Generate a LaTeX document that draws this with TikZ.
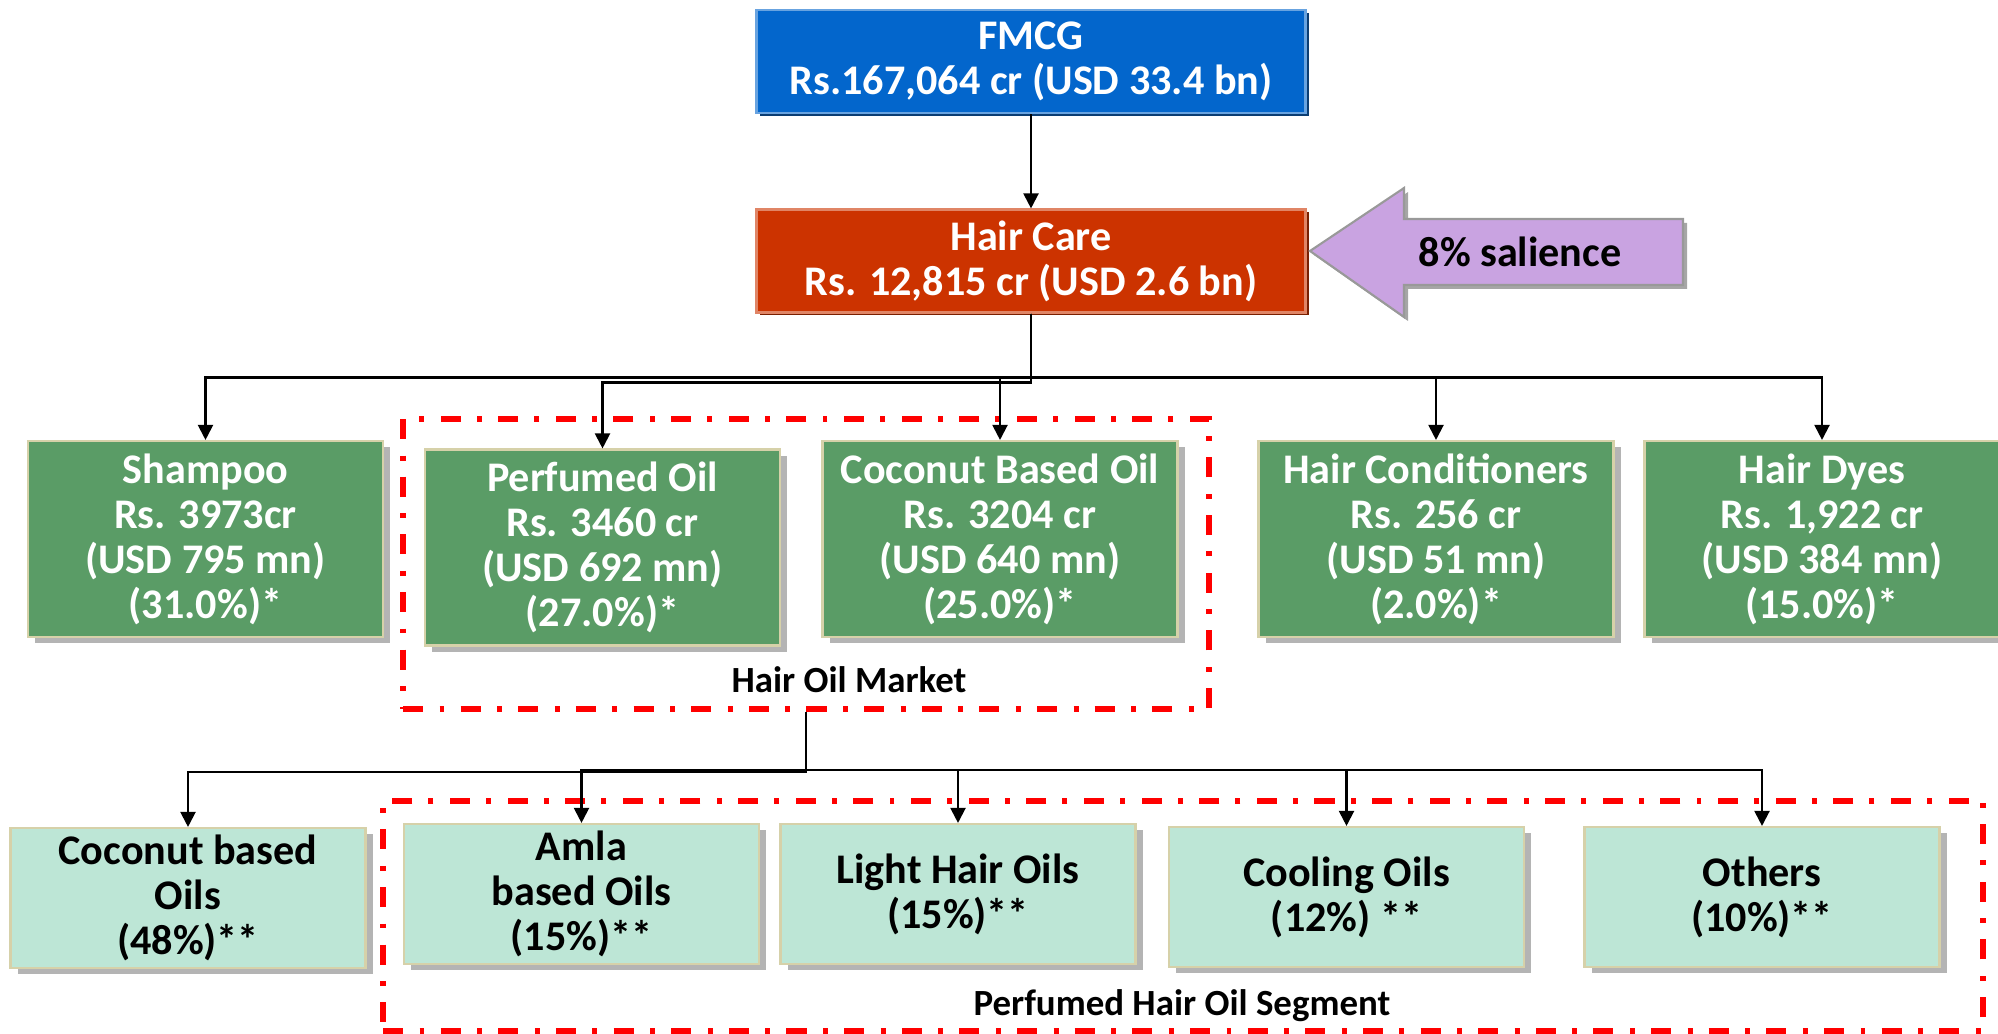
\documentclass[tikz,border=0pt]{standalone}
\usepackage{fontspec}
\setmainfont{Carlito}
\usetikzlibrary{arrows.meta,shadows}
\definecolor{fmcgblue}{HTML}{0366CC}
\definecolor{fmcgdark}{HTML}{0A3D73}
\definecolor{carered}{HTML}{CC3300}
\definecolor{caredark}{HTML}{7A1F00}
\definecolor{salfill}{HTML}{C9A3E1}
\definecolor{oilgreen}{HTML}{5A9C66}
\definecolor{oilmint}{HTML}{BDE6D6}
\definecolor{boxedge}{HTML}{D6D1A9}
\definecolor{shadowgray}{HTML}{B4B4B4}
\newcommand{\chartfont}{\fontsize{12}{12.8}\selectfont\bfseries}
\newcommand{\tagfont}{\fontsize{10.5}{12}\selectfont\bfseries}

\begin{document}
\begin{tikzpicture}[
  box/.style={line width=0.6pt, align=center, font=\chartfont, inner sep=2pt},
  grayshadow/.style={drop shadow={shadow xshift=0.07cm, shadow yshift=-0.06cm,
                     fill=shadowgray, opacity=1}},
  head/.style={box, text=white, minimum width=5.49cm, minimum height=1.03cm},
  mkt/.style={box, grayshadow, draw=boxedge, fill=oilgreen, text=white,
              minimum width=3.55cm, minimum height=1.96cm},
  seg/.style={box, grayshadow, draw=boxedge, fill=oilmint,
              minimum width=3.55cm, minimum height=1.40cm},
  zone/.style={draw=red, line width=1.7pt, inner sep=0pt,
               dash pattern=on 5.7pt off 4.7pt on 1.4pt off 4.6pt},
  lbl/.style={font=\tagfont},
  arr/.style={-{Triangle[length=4.3pt,width=4.3pt]}, line width=0.6pt}
]
  \useasboundingbox (0,0) rectangle (19.98,-10.34);

  \node[head, fill=fmcgblue, draw=fmcgblue!60!white,
        drop shadow={shadow xshift=0.03cm, shadow yshift=-0.03cm, fill=fmcgdark, opacity=1}]
        (fmcg) at (10.31,-0.615) {FMCG\\Rs.167,064 cr (USD 33.4 bn)};
  \node[head, fill=carered, draw=carered!60!white,
        drop shadow={shadow xshift=0.03cm, shadow yshift=-0.03cm, fill=caredark, opacity=1}]
        (care) at (10.31,-2.61) {Hair Care\\Rs. 12,815 cr (USD 2.6 bn)};

  \draw[fill=salfill, draw=gray!80, line width=0.6pt,
        drop shadow={shadow xshift=0.04cm, shadow yshift=-0.04cm, fill=gray!70, opacity=1}]
    (13.10,-2.51) -- (14.04,-1.88) -- (14.04,-2.19) -- (16.83,-2.19)
    -- (16.83,-2.85) -- (14.04,-2.85) -- (14.04,-3.17) -- cycle;
  \node[font=\chartfont] (salience) at (15.20,-2.52) {8\% salience};

  \node[zone, minimum width=8.06cm, minimum height=2.90cm] (oilmkt) at (8.06,-5.64) {};
  \node[zone, minimum width=16.00cm, minimum height=2.30cm] (oilseg) at (11.83,-9.16) {};
  \node[lbl] (oilmktlabel) at (8.49,-6.80) {Hair Oil Market};
  \node[lbl] (oilseglabel) at (11.82,-10.06) {Perfumed Hair Oil Segment};

  \node[mkt] (shampoo)     at (2.055,-5.39)  {Shampoo\\Rs. 3973cr\\(USD 795 mn)\\(31.0\%)*};
  \node[mkt] (perfumed)    at (6.025,-5.475) {Perfumed Oil\\Rs. 3460 cr\\(USD 692 mn)\\(27.0\%)*};
  \node[mkt] (cocobased)   at (10.00,-5.39)  {Coconut Based Oil\\Rs. 3204 cr\\(USD 640 mn)\\(25.0\%)*};
  \node[mkt] (conditioner) at (14.36,-5.39)  {Hair Conditioners\\Rs. 256 cr\\(USD 51 mn)\\(2.0\%)*};
  \node[mkt] (dyes)        at (18.22,-5.39)  {Hair Dyes\\Rs. 1,922 cr\\(USD 384 mn)\\(15.0\%)*};

  \node[seg] (cocooils) at (1.88,-8.98)   {Coconut based\\Oils\\(48\%)**};
  \node[seg] (amla)     at (5.815,-8.94)  {Amla\\based Oils\\(15\%)**};
  \node[seg] (light)    at (9.58,-8.94)   {Light Hair Oils\\(15\%)**};
  \node[seg] (cooling)  at (13.465,-8.97) {Cooling Oils\\(12\%) **};
  \node[seg] (others)   at (17.62,-8.97)  {Others\\(10\%)**};

  \draw[arr] (fmcg) -- (care);

  \draw[arr] (care.south) -- ++(0,-0.64) -| (shampoo.north);
  \draw[arr] (care.south) -- ++(0,-0.69) -| (perfumed.north);
  \draw[arr] (care.south) -- ++(0,-0.64) -| (cocobased.north);
  \draw[arr] (care.south) -- ++(0,-0.64) -| (conditioner.north);
  \draw[arr] (care.south) -- ++(0,-0.64) -| (dyes.north);

  \draw[arr] (oilmkt.south) -- ++(0,-0.60) -| (cocooils.north);
  \draw[arr] (oilmkt.south) -- ++(0,-0.58) -| (amla.north);
  \draw[arr] (oilmkt.south) -- ++(0,-0.58) -| (light.north);
  \draw[arr] (oilmkt.south) -- ++(0,-0.58) -| (cooling.north);
  \draw[arr] (oilmkt.south) -- ++(0,-0.58) -| (others.north);
\end{tikzpicture}
\end{document}
